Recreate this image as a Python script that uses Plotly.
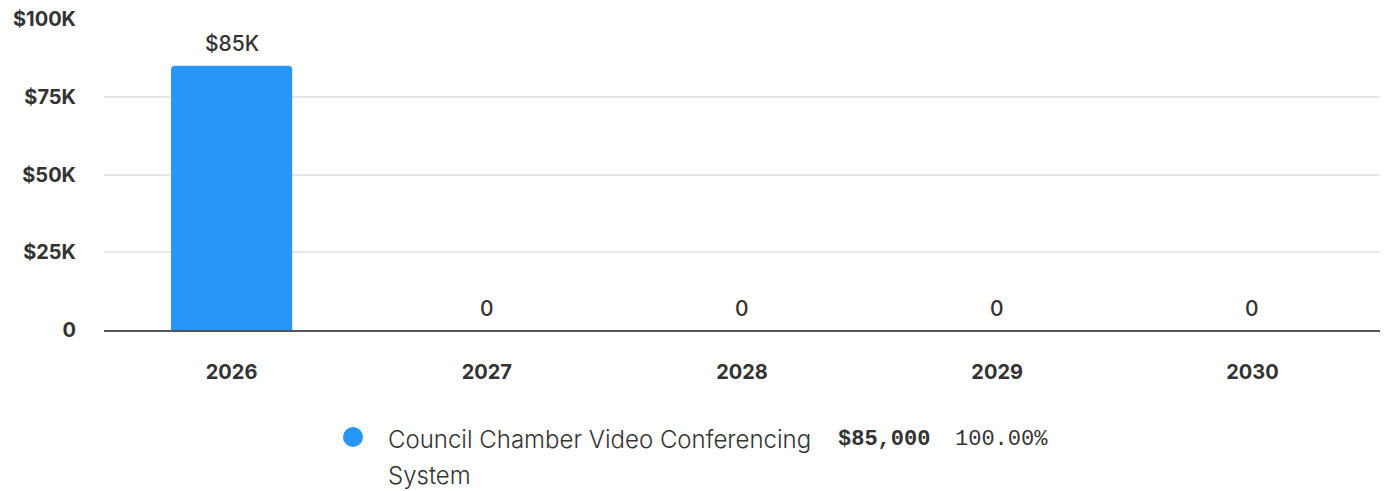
import plotly.graph_objects as go

years = ["2026", "2027", "2028", "2029", "2030"]
values = [85000, 0, 0, 0, 0]
y_ticks = [0, 25000, 50000, 75000, 100000]
y_tick_labels = ["0", "$25K", "$50K", "$75K", "$100K"]
legend_name_lines = ["Council Chamber Video Conferencing", "System"]
legend_total = "$85,000"
legend_pct = "100.00%"

BAR_COLOR = "#2896f8"
TEXT = "#333333"
W, H = 1385, 491
L, R, T, B = 104, 5, 19, 161
PW, PH = W - L - R, H - T - B


def fmt(v):
    return "0" if v == 0 else "$%dK" % round(v / 1000)


def px(x):
    return (x - L) / PW


def py(y):
    return (H - B - y) / PH


fig = go.Figure(
    go.Bar(
        x=years,
        y=values,
        marker=dict(color=BAR_COLOR, cornerradius=4, line=dict(width=0)),
        width=0.475,
        hoverinfo="skip",
    )
)

# data labels (x given as category index on the category axis)
for i, v in enumerate(values):
    fig.add_annotation(
        x=i, y=v, xref="x", yref="y", text=fmt(v), showarrow=False,
        yanchor="middle", yshift=22,
        font=dict(family="Inter, sans-serif", size=21, color=TEXT, weight=500),
    )

fig.update_layout(
    width=W,
    height=H,
    margin=dict(l=L, r=R, t=T, b=B),
    paper_bgcolor="white",
    plot_bgcolor="white",
    showlegend=False,
    font=dict(family="Inter, sans-serif", color=TEXT),
    xaxis=dict(
        type="category",
        categoryorder="array",
        categoryarray=years,
        range=[-0.5, len(years) - 0.5],
        showgrid=False,
        showline=True,
        linecolor="#555555",
        linewidth=2,
        ticks="",
        tickfont=dict(size=20, family="Inter, sans-serif", weight="bold", color=TEXT),
        ticklabelstandoff=23,
        fixedrange=True,
    ),
    yaxis=dict(
        range=[0, 100000],
        tickvals=y_ticks,
        ticktext=y_tick_labels,
        showgrid=True,
        gridcolor="#e6e6e6",
        gridwidth=2,
        zeroline=False,
        ticks="",
        tickfont=dict(size=20, family="Inter, sans-serif", weight="bold", color=TEXT),
        ticklabelstandoff=27,
        fixedrange=True,
    ),
)

# custom legend
fig.add_shape(
    type="circle", xref="paper", yref="paper",
    x0=px(343), x1=px(363), y0=py(447), y1=py(427),
    fillcolor=BAR_COLOR, line=dict(width=0),
)
line_y = [439, 475]
for txt, yy in zip(legend_name_lines, line_y):
    fig.add_annotation(
        xref="paper", yref="paper", x=px(386), y=py(yy), xanchor="left", yanchor="middle",
        text=txt, showarrow=False,
        font=dict(family="Inter, sans-serif", size=24, color=TEXT, weight=300),
    )
fig.add_annotation(
    xref="paper", yref="paper", x=px(836), y=py(439), xanchor="left", yanchor="middle",
    text="<b>%s</b>" % legend_total, showarrow=False,
    font=dict(family="Liberation Mono, monospace", size=22, color=TEXT),
)
fig.add_annotation(
    xref="paper", yref="paper", x=px(953), y=py(439), xanchor="left", yanchor="middle",
    text=legend_pct, showarrow=False,
    font=dict(family="Liberation Mono, monospace", size=22, color=TEXT),
)

fig.write_html("out.html")
